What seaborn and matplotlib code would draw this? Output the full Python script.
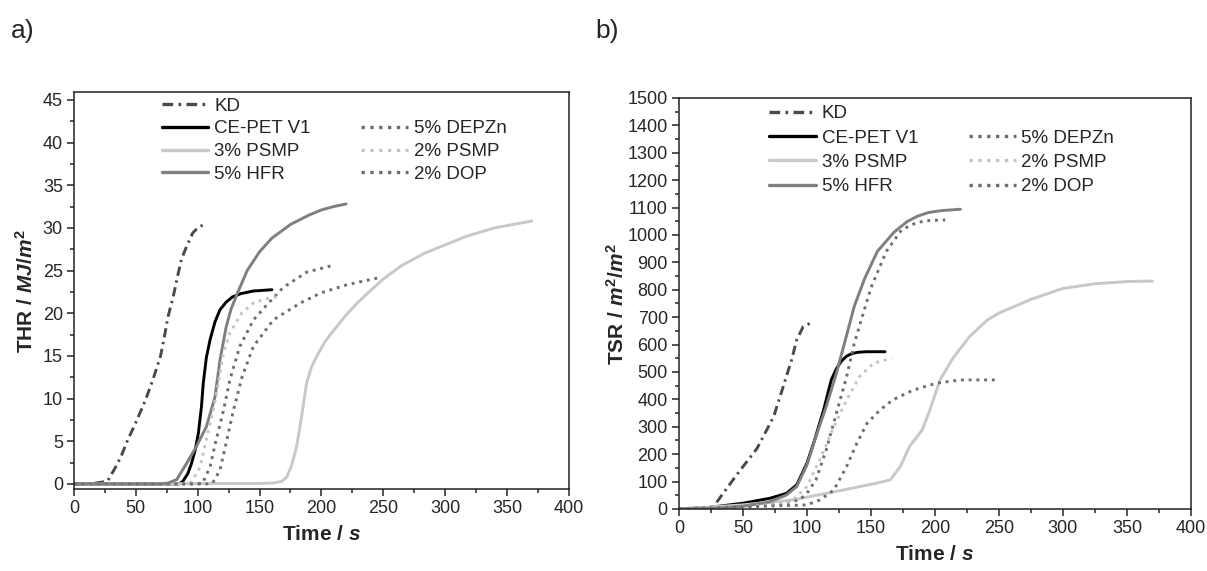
import numpy as np
import pandas as pd
import matplotlib
matplotlib.use("Agg")
import matplotlib.pyplot as plt
from matplotlib.lines import Line2D
from matplotlib.ticker import MultipleLocator
import seaborn as sns

# ---- data ----
# a) THR, MJ/m2 vs time, s
kd_t = [0, 15, 22, 27, 33, 38, 43, 50, 58, 64, 70, 73, 76, 80, 84, 87, 91, 96, 100, 105]
kd_thr = [0, 0.05, 0.2, 0.3, 1.8, 3.2, 5, 7.2, 9.9, 12.3, 15, 17.2, 19.6, 21.8, 24.5, 26.4, 27.8, 29.4, 30.0, 30.4]

cepet_t = [0, 85, 88, 92, 95, 98, 100.5, 103, 104.5, 107, 110, 114, 118, 123, 128, 135, 145, 160]
cepet_thr = [0, 0, 0.3, 1.2, 2.4, 4, 5.9, 9, 11.8, 14.8, 16.9, 19, 20.4, 21.3, 21.9, 22.3, 22.6, 22.75]

psmp3_t = [0, 150, 161, 168, 172, 176, 180, 184, 188, 192, 196, 203, 210, 220, 229, 240, 250, 265, 283, 300, 317, 340, 370]
psmp3_thr = [0, 0.05, 0.1, 0.3, 0.8, 2.2, 4.4, 7.9, 11.8, 13.7, 14.9, 16.7, 18, 19.8, 21.2, 22.7, 24, 25.6, 27, 28, 29, 30, 30.8]

hfr_t = [0, 70, 76, 83, 91, 99, 107, 114, 118, 123, 127, 132, 140, 150, 160, 175, 190, 200, 210, 220]
hfr_thr = [0, 0, 0.1, 0.5, 2.4, 4.4, 6.7, 10.2, 14.5, 18.4, 20.5, 22.3, 25, 27.2, 28.8, 30.4, 31.5, 32.1, 32.5, 32.8]

depzn_t = [0, 100, 104, 110, 115, 121, 126, 134, 145, 156, 169, 188, 209]
depzn_thr = [0, 0, 0.1, 2.0, 5.2, 8.7, 12.2, 16.1, 19.2, 21, 23, 24.8, 25.6]

psmp2_t = [0, 90, 95, 102, 107, 112.6, 116.6, 120.7, 126, 135.5, 145, 155, 167]
psmp2_thr = [0, 0, 0.2, 2.0, 5.2, 8.7, 11.8, 15.3, 17.7, 20, 21.2, 21.7, 22.0]

dop_t = [0, 108, 112, 118, 123, 129, 136, 145, 161, 183, 200, 220, 235, 248]
dop_thr = [0, 0, 0.1, 1.6, 4.8, 8.7, 12.6, 16.1, 19.2, 21.2, 22.4, 23.3, 23.8, 24.2]

# b) TSR, m2/m2 vs time, s
kd_t2 = [0, 27, 28, 45, 61, 74, 81, 88, 92, 97, 105]
kd_tsr = [0, 0, 15, 124, 221, 337, 440, 544, 617, 665, 684]

cepet_t2 = [0, 24, 50, 71, 84, 92, 100, 106, 113, 119, 123, 127, 131, 135, 140, 147, 161]
cepet_tsr = [0, 6, 21, 39, 57, 88, 167, 252, 361, 471, 512, 540, 558, 567, 572, 574, 574]

psmp3_t2 = [0, 50, 89, 128, 154, 165, 173, 180, 190, 196, 204, 214, 227, 241, 250, 275, 300, 325, 350, 370]
psmp3_tsr = [0, 15, 33, 69, 94, 106, 155, 227, 288, 361, 471, 550, 629, 690, 715, 765, 805, 822, 830, 832]

hfr_t2 = [0, 30, 50, 70, 84, 92, 100, 107, 115, 123, 130, 137, 145, 155, 168, 178, 186, 195, 205, 220]
hfr_tsr = [0, 3, 10, 25, 51, 82, 161, 264, 373, 495, 617, 740, 840, 940, 1010, 1048, 1068, 1082, 1089, 1094]

depzn_t2 = [0, 50, 80, 94, 100, 107, 115, 123, 131, 137, 144, 150, 162, 174, 186, 196, 208]
depzn_tsr = [0, 8, 20, 33, 57, 106, 215, 349, 483, 605, 714, 807, 940, 1019, 1046, 1053, 1055]

psmp2_t2 = [0, 50, 80, 89, 100, 110, 121, 131, 141, 152, 166]
psmp2_tsr = [0, 8, 20, 33, 82, 179, 300, 398, 483, 532, 550]

dop_t2 = [0, 50, 80, 100, 110, 121, 131, 139, 147, 157, 167, 183, 201, 220, 250]
dop_tsr = [0, 8, 12, 15, 33, 69, 155, 240, 313, 361, 398, 434, 459, 471, 471]

names = ["KD", "CE-PET V1", "3% PSMP", "5% HFR", "5% DEPZn", "2% PSMP", "2% DOP"]
colors = ["#4a4a4a", "#000000", "#c8c8c8", "#7f7f7f", "#6e6e6e", "#c4c4c4", "#6e6e6e"]
styles = [(0, (3.2, 1.6, 0.8, 1.6)), "-", "-", "-", ":", ":", ":"]

thr_series = [(kd_t, kd_thr), (cepet_t, cepet_thr), (psmp3_t, psmp3_thr), (hfr_t, hfr_thr),
              (depzn_t, depzn_thr), (psmp2_t, psmp2_thr), (dop_t, dop_thr)]
tsr_series = [(kd_t2, kd_tsr), (cepet_t2, cepet_tsr), (psmp3_t2, psmp3_tsr), (hfr_t2, hfr_tsr),
              (depzn_t2, depzn_tsr), (psmp2_t2, psmp2_tsr), (dop_t2, dop_tsr)]

sns.set_style("ticks")
plt.rcParams["font.family"] = ["Liberation Sans", "DejaVu Sans"]
plt.rcParams["mathtext.fontset"] = "custom"
plt.rcParams["mathtext.it"] = "Liberation Sans:italic:bold"
plt.rcParams["mathtext.rm"] = "Liberation Sans:bold"
plt.rcParams["mathtext.bf"] = "Liberation Sans:bold"

fig = plt.figure(figsize=(12.07, 5.71), dpi=100)
ax1 = fig.add_axes([0.0613, 0.1436, 0.410, 0.695])
ax2 = fig.add_axes([0.5625, 0.1086, 0.4242, 0.7198])


def draw(ax, series, anchor, spacing):
    for (t, v), name, c, ls in zip(series, names, colors, styles):
        df = pd.DataFrame({"t": t, "v": v})
        sns.lineplot(data=df, x="t", y="v", ax=ax, color=c, linestyle=ls, lw=2.1,
                     estimator=None, sort=False, legend=False)
    ax.set_xlim(0, 400)
    ax.xaxis.set_major_locator(MultipleLocator(50))
    ax.xaxis.set_minor_locator(MultipleLocator(25))
    ax.tick_params(which="both", direction="out", top=False, right=False, labelsize=13)
    ax.tick_params(which="major", length=5, width=1.1, pad=3)
    ax.tick_params(which="minor", length=3, width=1.1)
    for s in ax.spines.values():
        s.set_visible(True)
        s.set_linewidth(1.1)
        s.set_color("#222222")
    ax.set_xlabel("Time / $s$", fontsize=15, fontweight="bold", labelpad=6)

    handles = [Line2D([], [], color=c, linestyle=ls, lw=2.4) for c, ls in zip(colors, styles)]
    blank = Line2D([], [], color="none")
    hs = handles[:4] + [blank] + handles[4:]
    ls_ = names[:4] + [""] + names[4:]
    ax.legend(hs, ls_, ncol=2, frameon=False, loc="upper left", bbox_to_anchor=anchor,
              fontsize=13.5, handlelength=2.5, handletextpad=0.3, columnspacing=2.7,
              labelspacing=spacing, borderpad=0.0)


draw(ax1, thr_series, (0.158, 1.01), 0.3)
ax1.set_ylim(-0.6, 45.9)
ax1.yaxis.set_major_locator(MultipleLocator(5))
ax1.yaxis.set_minor_locator(MultipleLocator(2.5))
ax1.set_ylabel("THR / $MJ/m^2$", fontsize=15, fontweight="bold", labelpad=4)

draw(ax2, tsr_series, (0.158, 1.005), 0.38)
ax2.set_ylim(0, 1500)
ax2.yaxis.set_major_locator(MultipleLocator(100))
ax2.yaxis.set_minor_locator(MultipleLocator(50))
ax2.set_ylabel("TSR / $m^2/m^2$", fontsize=15, fontweight="bold", labelpad=0)

fig.text(0.009, 0.945, "a)", fontsize=19, va="center")
fig.text(0.493, 0.945, "b)", fontsize=19, va="center")

fig.savefig("out.png", dpi=100)
